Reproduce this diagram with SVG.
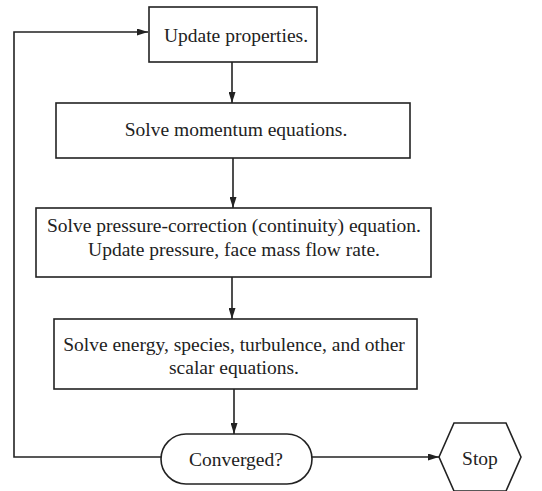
<svg xmlns="http://www.w3.org/2000/svg" width="542" height="491" viewBox="0 0 542 491">
<style>
.box{fill:#fff;stroke:#222;stroke-width:1.6}
.t{font-family:"Liberation Serif","Times New Roman",serif;font-size:19.5px;fill:#222;text-anchor:middle}
.c{fill:none;stroke:#222;stroke-width:1.6}
</style>
<defs>
<marker id="ah" viewBox="0 0 11 7" refX="11" refY="3.5" markerWidth="11" markerHeight="7" markerUnits="userSpaceOnUse" orient="auto">
<path d="M0,0 L11,3.5 L0,7 Z" fill="#222"/>
</marker>
</defs>
<rect width="542" height="491" fill="#fff"/>
<g id="connectors">
<line class="c" x1="232" y1="62" x2="232" y2="103" marker-end="url(#ah)"/>
<line class="c" x1="233" y1="158" x2="233" y2="208" marker-end="url(#ah)"/>
<line class="c" x1="232" y1="277" x2="232" y2="319" marker-end="url(#ah)"/>
<line class="c" x1="234" y1="389" x2="234" y2="434" marker-end="url(#ah)"/>
<polyline class="c" points="161,457 14,457 14,32 148,32" marker-end="url(#ah)"/>
<line class="c" x1="312" y1="457" x2="439" y2="457" marker-end="url(#ah)"/>
</g>
<g id="update">
<rect class="box" x="149" y="7" width="168" height="55"/>
<text class="t" x="236" y="42">Update properties.</text>
</g>
<g id="momentum">
<rect class="box" x="56" y="103" width="354" height="55"/>
<text class="t" x="236" y="136">Solve momentum equations.</text>
</g>
<g id="pressure">
<rect class="box" x="36" y="208" width="395" height="69"/>
<text class="t" x="234" y="232" textLength="374" lengthAdjust="spacingAndGlyphs">Solve pressure-correction (continuity) equation.</text>
<text class="t" x="234" y="256">Update pressure, face mass flow rate.</text>
</g>
<g id="scalar">
<rect class="box" x="54" y="319" width="363" height="70"/>
<text class="t" x="234" y="351">Solve energy, species, turbulence, and other</text>
<text class="t" x="234" y="374">scalar equations.</text>
</g>
<g id="converged">
<rect class="box" x="161" y="434" width="151" height="50" rx="25" ry="25"/>
<text class="t" x="236" y="466">Converged?</text>
</g>
<g id="stop">
<polygon class="box" points="439,457 454,423 506,423 521,457 506,491 454,491"/>
<text class="t" x="480" y="465">Stop</text>
</g>
</svg>
